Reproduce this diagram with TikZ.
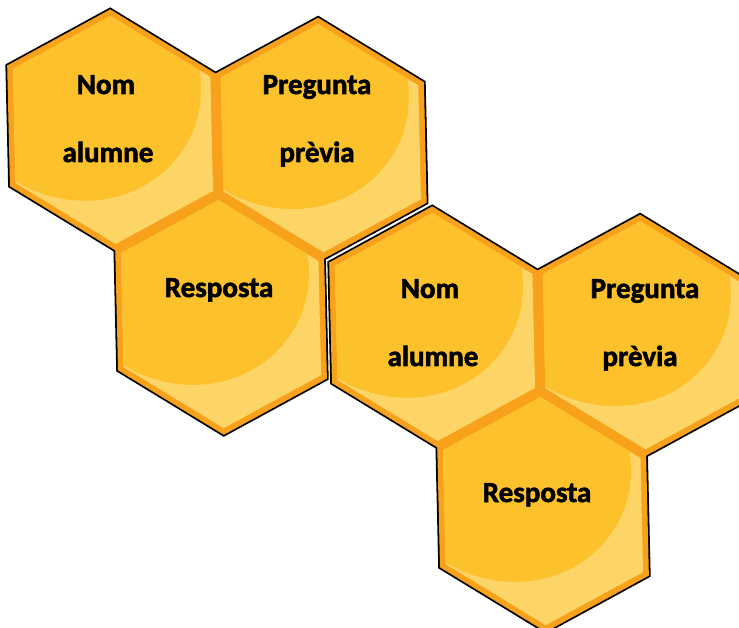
\documentclass[tikz,border=0pt]{standalone}
\usepackage{fontspec}
\setmainfont{Carlito}[BoldFeatures={FakeBold=2}]
\definecolor{hexband}{HTML}{F8A11A}
\definecolor{hexgold}{HTML}{FCC12B}
\definecolor{hexlight}{HTML}{FDD466}
\newcommand\hexshape[1]{(0,-#1) -- ({0.8660254*#1},{-0.5*#1}) -- ({0.8660254*#1},{0.5*#1}) -- (0,#1) -- ({-0.8660254*#1},{0.5*#1}) -- ({-0.8660254*#1},{-0.5*#1}) -- cycle}
\tikzset{
  cell/.style={shift={#1}, cm={1,-0.04,-0.023,1,(0,0)}},
  hextext/.style={font=\bfseries\fontsize{29}{31}\selectfont, anchor=base, inner sep=0pt, text=black},
}
\newcommand\cellout[1]{\begin{scope}[cell={#1}]\draw[line width=4.6pt, line join=miter] \hexshape{120};\end{scope}}
\newcommand\cellband[1]{\begin{scope}[cell={#1}]\filldraw[fill=hexband, draw=hexband, line width=1pt] \hexshape{120};\end{scope}}
\newcommand\cellin[1]{\begin{scope}[cell={#1}]\fill[hexlight] \hexshape{114}; \clip \hexshape{114}; \fill[hexgold] (-35,-47) ellipse [x radius=124, y radius=119];\end{scope}}
\begin{document}
\begin{tikzpicture}[x=1pt, y=-1pt]
\path[use as bounding box, clip] (0,0) rectangle (739,628);
% cluster 1
\cellout{(113,130)}\cellout{(320.85,138.31)}\cellout{(221.06,314.16)}
\cellband{(113,130)}\cellband{(320.85,138.31)}\cellband{(221.06,314.16)}
\cellin{(113,130)}\cellin{(320.85,138.31)}\cellin{(221.06,314.16)}
% cluster 2
\cellout{(435,327)}\cellout{(642.85,335.31)}\cellout{(543.06,511.16)}
\cellband{(435,327)}\cellband{(642.85,335.31)}\cellband{(543.06,511.16)}
\cellin{(435,327)}\cellin{(642.85,335.31)}\cellin{(543.06,511.16)}
% texts
\node[hextext] (a1) at (106,94) {Nom};
\node[hextext] (a2) at (108,162) {alumne};
\node[hextext] (b1) at (317,94) {Pregunta};
\node[hextext] (b2) at (317,162) {prèvia};
\node[hextext] (c1) at (219,297) {Resposta};
\node[hextext] (d1) at (430,298) {Nom};
\node[hextext] (d2) at (433,366) {alumne};
\node[hextext] (e1) at (645,298) {Pregunta};
\node[hextext] (e2) at (640,366) {prèvia};
\node[hextext] (f1) at (537,502) {Resposta};
\end{tikzpicture}
\end{document}
